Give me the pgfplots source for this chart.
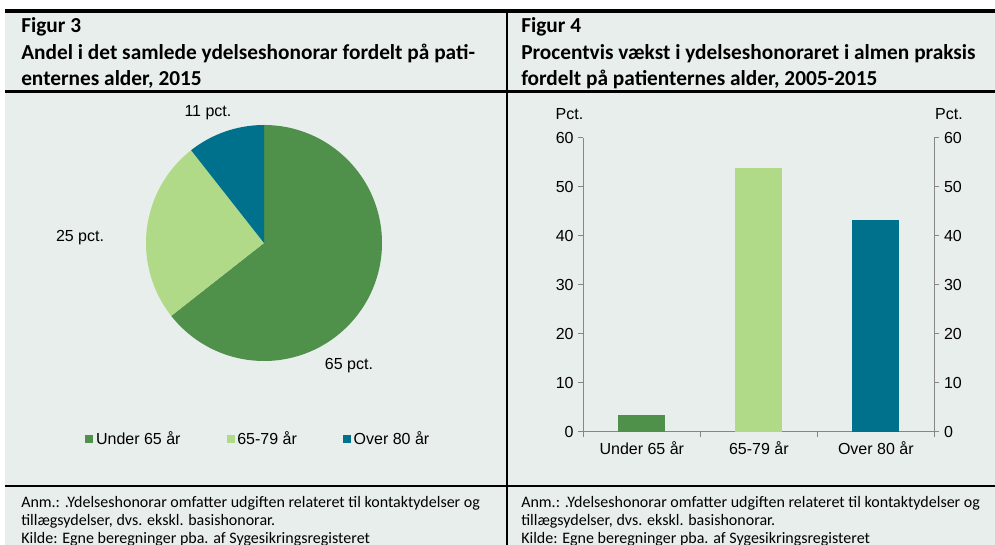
\documentclass[border=0pt]{standalone}
\usepackage{pgfplots}
\pgfplotsset{compat=1.18}
\usepackage{pgfplotstable}
\usepackage{fontspec}
\setmainfont{Liberation Sans}
\newfontfamily\carlito{Carlito}
\definecolor{bg}{HTML}{E8EEEC}
\definecolor{cA}{HTML}{4F914B}
\definecolor{cB}{HTML}{B0DA87}
\definecolor{cC}{HTML}{00718C}
\definecolor{axgray}{HTML}{868686}
\pgfplotstableread{
grp share
0 64.4
1 25.0
2 10.6
}\pietab
\newcommand\hdr{\carlito\bfseries\fontsize{16}{19}\selectfont}
\newcommand\nte{\carlito\fontsize{12}{14}\selectfont}
\newcommand\chf{\fontsize{12}{14}\selectfont}
\begin{document}
\begin{tikzpicture}[x=0.75pt,y=0.75pt]
\path[use as bounding box] (0,0) rectangle (995,545);
\fill[bg] (5,0) rectangle (995,534);
\draw[line width=3pt] (5,534) -- (995,534);
\draw[line width=2.25pt] (5,453.5) -- (995,453.5);
\draw[line width=1.5pt] (5,58.5) -- (995,58.5);
\draw[line width=1.5pt] (507,534) -- (507,0);
% headers
\node[anchor=base west,inner sep=0pt,font=\hdr] at (21,512) {Figur 3};
\node[anchor=base west,inner sep=0pt,font=\hdr] at (21,485.5) {Andel i det samlede ydelseshonorar fordelt på pati-};
\node[anchor=base west,inner sep=0pt,font=\hdr] at (21,459) {enternes alder, 2015};
\node[anchor=base west,inner sep=0pt,font=\hdr] at (521,512) {Figur 4};
\node[anchor=base west,inner sep=0pt,font=\hdr] at (521,485.5) {Procentvis vækst i ydelseshonoraret i almen praksis};
\node[anchor=base west,inner sep=0pt,font=\hdr] at (521,459) {fordelt på patienternes alder, 2005-2015};
% notes
\foreach \xx in {21,521}{
\node[anchor=base west,inner sep=0pt,font=\nte] at (\xx,37.5) {Anm.: .Ydelseshonorar omfatter udgiften relateret til kontaktydelser og};
\node[anchor=base west,inner sep=0pt,font=\nte] at (\xx,19) {tillægsydelser, dvs. ekskl. basishonorar.};
\node[anchor=base west,inner sep=0pt,font=\nte] at (\xx,1.5) {Kilde: Egne beregninger pba. af Sygesikringsregisteret};
}
% pie angles
\pgfplotstablegetelem{0}{share}\of\pietab \pgfmathsetmacro\sA{\pgfplotsretval}
\pgfplotstablegetelem{1}{share}\of\pietab \pgfmathsetmacro\sB{\pgfplotsretval}
\pgfplotstablegetelem{2}{share}\of\pietab \pgfmathsetmacro\sC{\pgfplotsretval}
\pgfmathsetmacro\aA{90-3.6*\sA}
\pgfmathsetmacro\aB{\aA-3.6*\sB}
\pgfmathsetmacro\aC{\aB-3.6*\sC}
\begin{axis}[at={(198pt,226.5pt)}, anchor=center, x=88.5pt, y=88.5pt,
  xmin=-1.7, xmax=1.7, ymin=-1.8, ymax=1.8, hide axis, clip=false,
  legend image code/.code={\fill[#1] (0pt,-3pt) rectangle (6pt,3pt);},
  legend style={at={(axis cs:-0.045,-1.661)}, anchor=center, draw=none, fill=none,
    font=\chf, /tikz/every even column/.append style={column sep=32.6pt}},
  legend columns=3, legend cell align=left]
\fill[cA] (axis cs:0,0) -- ++(90:88.5pt) arc[start angle=90, end angle=\aA, radius=88.5pt] -- cycle;
\fill[cB] (axis cs:0,0) -- ++(\aA:88.5pt) arc[start angle=\aA, end angle=\aB, radius=88.5pt] -- cycle;
\fill[cC] (axis cs:0,0) -- ++(\aB:88.5pt) arc[start angle=\aB, end angle=\aC, radius=88.5pt] -- cycle;
\addlegendimage{fill=cA,draw=none}
\addlegendimage{fill=cB,draw=none}
\addlegendimage{fill=cC,draw=none}
\legend{Under 65 år, 65-79 år, Over 80 år}
\node[font=\chf] at (axis cs:-0.475,1.102) {11 pct.};
\node[font=\chf] at (axis cs:-1.559,0.042) {25 pct.};
\node[font=\chf] at (axis cs:0.72,-1.042) {65 pct.};
\end{axis}
% bar chart
\begin{axis}[at={(437.5pt,85pt)}, anchor=south west, scale only axis,
  width=263.25pt, height=220.5pt,
  xmin=-0.5, xmax=2.5, ymin=0, ymax=60,
  axis x line*=bottom, axis y line*=left,
  axis line style={draw=axgray, line width=1.1pt},
  tick align=outside, tick style={draw=axgray, line width=1.1pt},
  major tick length=3.75pt, minor tick length=3.75pt,
  ytick={0,10,...,60},
  xtick={0,1,2}, xticklabels={Under 65 år, 65-79 år, Over 80 år},
  major x tick style={draw=none},
  minor xtick={-0.5,0.5,1.5,2.5},
  ticklabel style={font=\chf}, /pgf/number format/assume math mode=true]
\addplot[ybar, fill=cA, draw=none, bar width=35.25pt, bar shift=0pt] coordinates {(0,3.4)};
\addplot[ybar, fill=cB, draw=none, bar width=35.25pt, bar shift=0pt] coordinates {(1,53.8)};
\addplot[ybar, fill=cC, draw=none, bar width=35.25pt, bar shift=0pt] coordinates {(2,43.2)};
\end{axis}
\begin{axis}[at={(437.5pt,85pt)}, anchor=south west, scale only axis,
  width=263.25pt, height=220.5pt,
  xmin=-0.5, xmax=2.5, ymin=0, ymax=60,
  axis x line=none, axis y line*=right,
  axis line style={draw=axgray, line width=1.1pt},
  tick align=outside, tick style={draw=axgray, line width=1.1pt},
  major tick length=3.75pt,
  ytick={0,10,...,60}, yticklabel pos=right,
  ticklabel style={font=\chf}, /pgf/number format/assume math mode=true]
\addplot[draw=none] coordinates {(0,0)};
\end{axis}
\node[font=\chf] at (569.5,431) {Pct.};
\node[font=\chf] at (949,431) {Pct.};
\end{tikzpicture}
\end{document}
